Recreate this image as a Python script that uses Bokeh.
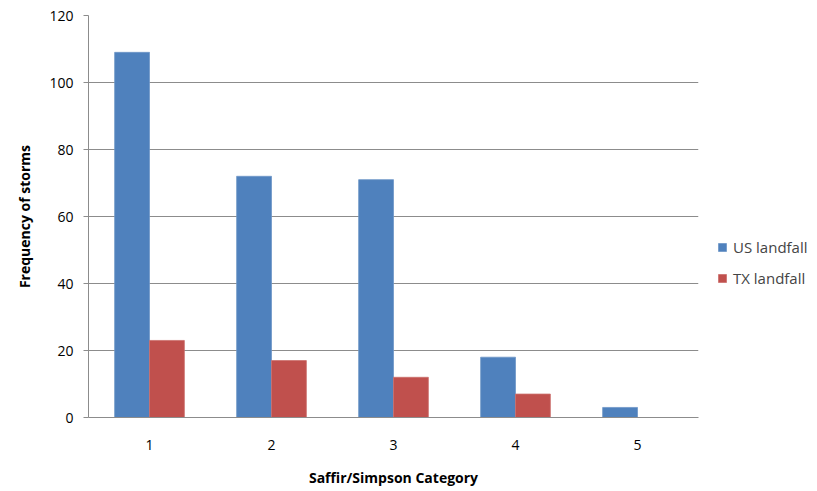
from bokeh.plotting import figure
from bokeh.models import ColumnDataSource, Legend, LegendItem, FactorRange
from bokeh.transform import dodge
from bokeh.embed import file_html
from bokeh.resources import INLINE

categories = ["1", "2", "3", "4", "5"]
us_landfall = [109, 72, 71, 18, 3]
tx_landfall = [23, 17, 12, 7, 0]
y_ticks = [0, 20, 40, 60, 80, 100, 120]

src = ColumnDataSource(dict(cat=categories, us=us_landfall, tx=tx_landfall))

FONT = "Open Sans"
p = figure(x_range=FactorRange(*categories, range_padding=0), y_range=(0, 120),
           frame_width=610, frame_height=402, output_backend="svg", toolbar_location=None,
           min_border_left=88, min_border_right=0, min_border_top=15, min_border_bottom=64)

bw = 0.2857
r1 = p.vbar(x=dodge("cat", -bw / 2, range=p.x_range), top="us", width=bw, source=src,
            fill_color="#4F81BD", line_color="#6F97C8", line_width=0.8)
r2 = p.vbar(x=dodge("cat", bw / 2, range=p.x_range), top="tx", width=bw, source=src,
            fill_color="#C0504D", line_color="#CC706D", line_width=0.8)

p.outline_line_color = None
p.xgrid.grid_line_color = None
p.ygrid.grid_line_color = "#8C8C8C"
p.ygrid.grid_line_width = 1
p.yaxis.ticker = y_ticks
p.yaxis.axis_line_color = "#8C8C8C"
p.yaxis.major_tick_line_color = "#8C8C8C"
p.yaxis.major_tick_out = 5
p.yaxis.major_tick_in = 0
p.yaxis.minor_tick_line_color = None
p.yaxis.major_label_text_font = FONT
p.yaxis.major_label_text_font_size = "14px"
p.yaxis.major_label_text_color = "#000000"
p.yaxis.major_label_standoff = 10
p.yaxis.axis_label = "Frequency of storms"
p.yaxis.axis_label_text_font = FONT
p.yaxis.axis_label_text_font_size = "14px"
p.yaxis.axis_label_text_font_style = "bold"
p.yaxis.axis_label_text_color = "#000000"
p.yaxis.axis_label_standoff = 12

p.xaxis.axis_line_color = "#8C8C8C"
p.xaxis.major_tick_line_color = None
p.xaxis.minor_tick_line_color = None
p.xaxis.major_label_text_font = FONT
p.xaxis.major_label_text_font_size = "14px"
p.xaxis.major_label_text_color = "#000000"
p.xaxis.major_label_standoff = 16
p.xaxis.axis_label = "Saffir/Simpson Category"
p.xaxis.axis_label_text_font = FONT
p.xaxis.axis_label_text_font_size = "14px"
p.xaxis.axis_label_text_font_style = "bold"
p.xaxis.axis_label_text_color = "#000000"
p.xaxis.axis_label_standoff = 15

legend = Legend(items=[LegendItem(label="US landfall", renderers=[r1]),
                       LegendItem(label="TX landfall", renderers=[r2])],
                location=(19, 129), border_line_color=None, background_fill_alpha=0,
                label_text_font=FONT, label_text_font_size="15px",
                glyph_width=10, glyph_height=10, spacing=11, label_standoff=6, padding=4,
                margin=0)
p.add_layout(legend, "right")

open("out.html", "w").write(file_html(p, INLINE))
